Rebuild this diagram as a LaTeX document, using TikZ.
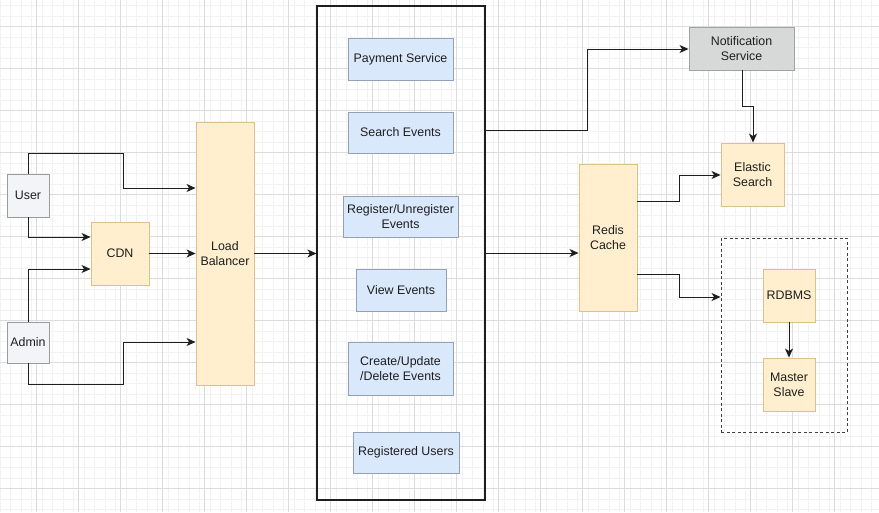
\documentclass[tikz,border=0pt]{standalone}
\usepackage{fontspec}
\setmainfont{Liberation Sans}
\usetikzlibrary{arrows.meta}
\definecolor{ofill}{HTML}{FFEFCF}
\definecolor{odraw}{HTML}{DCC18E}
\definecolor{bfill}{HTML}{DAE8FC}
\definecolor{bdraw}{HTML}{94A0B4}
\definecolor{gfill}{HTML}{D6D9D8}
\definecolor{gdraw}{HTML}{A2A2A2}
\definecolor{ufill}{HTML}{F3F4F7}
\definecolor{udraw}{HTML}{9B9B9B}
\definecolor{ink}{HTML}{1E1E1E}
\definecolor{gmajor}{HTML}{DCDCDC}
\definecolor{gminor}{HTML}{F2F2F2}
\tikzset{
  box/.style={rectangle, inner sep=0pt, align=center, font=\fontsize{12.4}{15}\selectfont, text=ink, line width=0.9pt},
  obox/.style={box, fill=ofill, draw=odraw},
  bbox/.style={box, fill=bfill, draw=bdraw},
  gbox/.style={box, fill=gfill, draw=gdraw},
  ubox/.style={box, fill=ufill, draw=udraw},
  conn/.style={draw=ink, line width=1pt},
  arr/.style={conn, -{Stealth[length=9pt,width=8pt,inset=2.5pt]}},
}
\begin{document}
\begin{tikzpicture}[x=1pt,y=-1pt]
\useasboundingbox (0,0) rectangle (879,512);
\fill[white] (0,0) rectangle (879,512);
% grid
\foreach \i in {0,...,84} {\draw[gminor, line width=0.8pt] ({\i*10.5},0) -- ({\i*10.5},512);}
\foreach \j in {0,...,49} {\draw[gminor, line width=0.8pt] (0,{5.5+\j*10.5}) -- (879,{5.5+\j*10.5});}
\foreach \i in {0,...,20} {\draw[gmajor, line width=0.8pt] ({-6+\i*42},0) -- ({-6+\i*42},512);}
\foreach \j in {0,...,12} {\draw[gmajor, line width=0.8pt] (0,{26+\j*42}) -- (879,{26+\j*42});}

% left
\node[ubox, minimum width=42pt, minimum height=43pt] (user) at (28,195.5) {User};
\node[ubox, minimum width=42pt, minimum height=41pt] (admin) at (28,342.5) {Admin};
\node[obox, minimum width=58pt, minimum height=63pt] (cdn) at (120,253.5) {CDN};
\node[obox, minimum width=58pt, minimum height=263pt] (lb) at (225,253.5) {Load\\Balancer};

% central container
\node[draw=ink, line width=1.1pt, fill=none, rectangle, inner sep=0pt, minimum width=168pt, minimum height=494pt] (svc) at (401,253) {};
\node[bbox, minimum width=105pt, minimum height=42pt] (pay) at (400.5,59) {Payment Service};
\node[bbox, minimum width=105pt, minimum height=41pt] (search) at (400.5,132.5) {Search Events};
\node[bbox, minimum width=115pt, minimum height=41pt] (reg) at (400.5,216.5) {Register/Unregister\\Events};
\node[bbox, minimum width=90pt, minimum height=42pt] (view) at (401,290) {View Events};
\node[bbox, minimum width=105pt, minimum height=53pt] (crud) at (400.5,368.5) {Create/Update\\/Delete Events};
\node[bbox, minimum width=106pt, minimum height=41pt] (regu) at (406,452.5) {Registered Users};

% right
\node[gbox, minimum width=105pt, minimum height=43pt] (notif) at (741.5,48.5) {Notification\\Service};
\node[obox, minimum width=63pt, minimum height=63pt] (es) at (752.5,174.5) {Elastic\\Search};
\node[obox, minimum width=58pt, minimum height=147pt] (redis) at (608,237.5) {Redis\\Cache};
\node[draw=ink!85, line width=0.9pt, dash pattern=on 3pt off 2.5pt, rectangle, inner sep=0pt, minimum width=126pt, minimum height=194pt] (db) at (784,335) {};
\node[obox, minimum width=52pt, minimum height=53pt] (rdbms) at (789,295.5) {RDBMS};
\node[obox, minimum width=52pt, minimum height=53pt] (ms) at (789,384.5) {Master\\Slave};

% connectors left
\draw[arr] (user.north) |- (123,153) -- (123,188) -- (lb.west |- 0,188);
\draw[arr] (user.south) |- (cdn.west |- 0,237);
\draw[arr] (admin.north) |- (cdn.west |- 0,269);
\draw[arr] (admin.south) |- (123,384) -- (123,342) -- (lb.west |- 0,342);
\draw[arr] (cdn.east) -- (lb.west |- cdn.east);
\draw[arr] (lb.east) -- (svc.west |- lb.east);

% connectors right
\draw[arr] (svc.east |- 0,130) -| (587,49) -- (notif.west |- 0,49);
\draw[arr] (742,70) |- (753,106) -- (es.north -| 753,0);
\draw[arr] (svc.east |- 0,253) -- (redis.west |- 0,253);
\draw[arr] (redis.east |- 0,201) -| (679,175) -- (es.west |- 0,175);
\draw[arr] (redis.east |- 0,274) -| (679,297) -- (db.west |- 0,297);
\draw[arr] (rdbms.south) -- (ms.north);
\end{tikzpicture}
\end{document}
